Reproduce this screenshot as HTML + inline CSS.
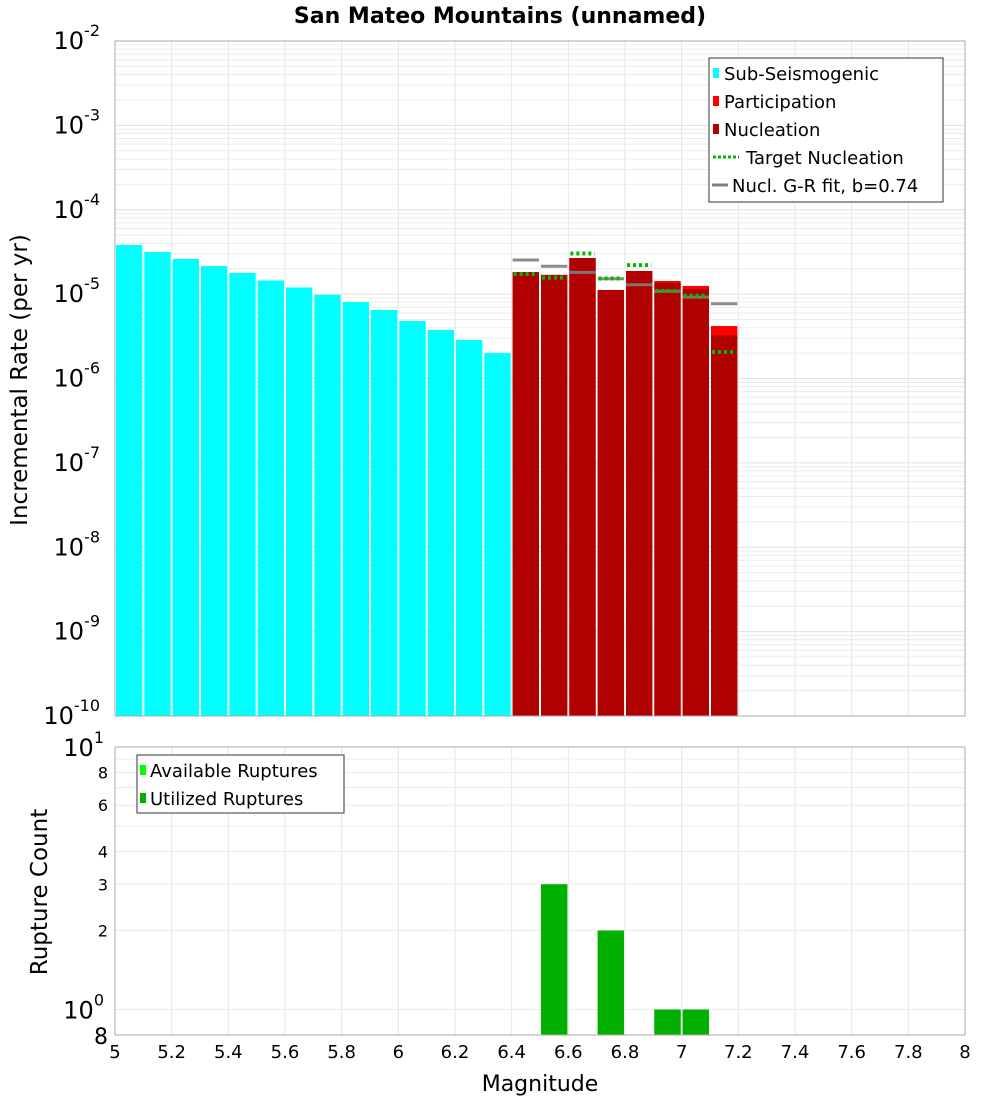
<!DOCTYPE html>
<html><head><meta charset="utf-8"><style>
body{margin:0;background:#fff;}
svg text{font-family:"DejaVu Sans","Liberation Sans",sans-serif;}
</style></head><body>
<svg id="c" width="1000" height="1100" xmlns="http://www.w3.org/2000/svg">
<text x="500" y="23" text-anchor="middle" font-size="22" font-weight="bold">San Mateo Mountains (unnamed)</text>
<text transform="translate(27,380) rotate(-90)" text-anchor="middle" font-size="23">Incremental Rate (per yr)</text>
<text transform="translate(47,892) rotate(-90)" text-anchor="middle" font-size="23">Rupture Count</text>
<text x="540" y="1091" text-anchor="middle" font-size="22">Magnitude</text>
<g id="topg"></g><g id="botg"></g>
</svg>
<script>
const subMags=[5.0,5.1,5.2,5.3,5.4,5.5,5.6,5.7,5.8,5.9,6.0,6.1,6.2,6.3];
const subRates=[3.82e-5,3.15e-5,2.61e-5,2.15e-5,1.78e-5,1.45e-5,1.20e-5,9.8e-6,8.07e-6,6.49e-6,4.80e-6,3.76e-6,2.86e-6,2.0e-6];
const supMags=[6.4,6.5,6.6,6.7,6.8,6.9,7.0,7.1];
const partRates=[1.83e-5,1.69e-5,2.68e-5,1.12e-5,1.88e-5,1.43e-5,1.25e-5,4.19e-6];
const nuclRates=[1.83e-5,1.69e-5,2.68e-5,1.12e-5,1.88e-5,1.36e-5,1.15e-5,3.24e-6];
const targetRates=[1.73e-5,1.57e-5,3.03e-5,1.53e-5,2.21e-5,1.09e-5,9.6e-6,2.06e-6];
const grRates=[2.54e-5,2.14e-5,1.81e-5,1.52e-5,1.29e-5,1.08e-5,9.2e-6,7.7e-6];
const countMags=[6.5,6.7,6.9,7.0];
const availCounts=[3,2,1,1];
const usedCounts=[3,2,1,1];
const xTicks=["5","5.2","5.4","5.6","5.8","6","6.2","6.4","6.6","6.8","7","7.2","7.4","7.6","7.8","8"];
const topExps=[-2,-3,-4,-5,-6,-7,-8,-9,-10];
const botTicks=[8,6,4,3,2];

const NS="http://www.w3.org/2000/svg";
const L=115,R=965,T1=41,B1=716,T2=747,B2=1035;
const X=m=>L+(m-5)/3*(R-L);
const Y1=v=>T1+(-2-Math.log10(v))*(B1-T1)/8;
const Y2=v=>T2+(1-Math.log10(v))*(B2-T2)/(1-Math.log10(0.8));
function el(p,tag,a,txt){const e=document.createElementNS(NS,tag);for(const k in a)e.setAttribute(k,a[k]);if(txt!==undefined)e.textContent=txt;p.appendChild(e);return e;}
const topG=document.getElementById('topg'),botG=document.getElementById('botg');

for(let d=-10;d<-2;d++)for(let k=1;k<10;k++){const y=Y1(k*Math.pow(10,d));
const g=el(topG,'line',{x1:L,x2:R,y1:y,y2:y,stroke:k==1?'#e0e0e0':'#ececec','stroke-width':1});

}
xTicks.forEach(t=>{const x=X(+t);
const g=el(topG,'line',{x1:x,x2:x,y1:T1,y2:B1,stroke:'#e6e6e6'});


const h=el(botG,'line',{x1:x,x2:x,y1:T2,y2:B2,stroke:'#e6e6e6'});


const tl=el(botG,'text',{x:x,y:1058,'text-anchor':'middle','font-size':18},t);

});
for(let v=0.8;v<=10.01;v+=(v<0.95?0.2:1)){const y=Y2(v);
const g=el(botG,'line',{x1:L,x2:R,y1:y,y2:y,stroke:'#ececec'});

}

const bw=0.1*(R-L)/3;
subMags.forEach((m,i)=>{const r=el(topG,'rect',{x:X(m)+1,y:Y1(subRates[i]),width:bw-2,height:B1-Y1(subRates[i]),fill:'#00ffff'});

});
supMags.forEach((m,i)=>{
const r=el(topG,'rect',{x:X(m)+1,y:Y1(partRates[i]),width:bw-2,height:B1-Y1(partRates[i]),fill:'#ff0000'});


const n=el(topG,'rect',{x:X(m)+1,y:Y1(nuclRates[i]),width:bw-2,height:B1-Y1(nuclRates[i]),fill:'#b00000'});

});
supMags.forEach((m,i)=>{
const g=el(topG,'line',{x1:X(m)+1,x2:X(m)+bw-1,y1:Y1(grRates[i]),y2:Y1(grRates[i]),stroke:'#808080','stroke-width':3,'stroke-opacity':0.9});


const t=el(topG,'line',{x1:X(m)+2,x2:X(m)+bw-2,y1:Y1(targetRates[i]),y2:Y1(targetRates[i]),stroke:'#00bb00','stroke-width':4,'stroke-dasharray':'3,3'});

});
el(topG,'rect',{x:L,y:T1,width:R-L,height:B1-T1,fill:'none',stroke:'#aaa'});

topExps.forEach(e=>{const y=Y1(Math.pow(10,e));
const t=el(topG,'text',{x:100,y:y+8,'text-anchor':'end','font-size':24});


el(t,'tspan',{},'10');el(t,'tspan',{dy:-13,'font-size':16},String(e));});

const lg=el(topG,'g',{});


el(lg,'rect',{x:709,y:58,width:234,height:144,fill:'#fff',stroke:'#333'});
[['#00ffff','Sub-Seismogenic'],['#ff0000','Participation'],['#b00000','Nucleation']].forEach((d,i)=>{
el(lg,'rect',{x:713,y:68+i*28,width:6,height:10,fill:d[0]});
el(lg,'text',{x:724,y:80+i*28,'font-size':18},d[1]);});
el(lg,'line',{x1:713,x2:739,y1:157,y2:157,stroke:'#00bb00','stroke-width':3,'stroke-dasharray':'3,2'});
el(lg,'text',{x:746,y:164,'font-size':18},'Target Nucleation');
el(lg,'line',{x1:712,x2:728,y1:185,y2:185,stroke:'#808080','stroke-width':3});
el(lg,'text',{x:732,y:192,'font-size':18},'Nucl. G-R fit, b=0.74');

countMags.forEach((m,i)=>{
const a=el(botG,'rect',{x:X(m)+1,y:Y2(availCounts[i]),width:bw-2,height:B2-Y2(availCounts[i]),fill:'#00ff00'});


const u=el(botG,'rect',{x:X(m)+1,y:Y2(usedCounts[i]),width:bw-2,height:B2-Y2(usedCounts[i]),fill:'#00b000'});

});
el(botG,'rect',{x:L,y:T2,width:R-L,height:B2-T2,fill:'none',stroke:'#aaa'});
botTicks.forEach(v=>{const t=el(botG,'text',{x:108,y:Y2(v)+6,'text-anchor':'end','font-size':16},String(v));

});
[[10,'1',T2],[1,'0',Y2(1)]].forEach(d=>{const t=el(botG,'text',{x:104,y:d[2]+9,'text-anchor':'end','font-size':24});


el(t,'tspan',{},'10');el(t,'tspan',{dy:-13,'font-size':16},d[1]);});
const b8=el(botG,'text',{x:108,y:B2+9,'text-anchor':'end','font-size':22},'8');


const lb=el(botG,'g',{});


el(lb,'rect',{x:137,y:755,width:207,height:58,fill:'#fff',stroke:'#333'});
el(lb,'rect',{x:140,y:765,width:6,height:10,fill:'#00ff00'});
el(lb,'text',{x:150,y:777,'font-size':18},'Available Ruptures');
el(lb,'rect',{x:140,y:793,width:6,height:10,fill:'#00b000'});
el(lb,'text',{x:150,y:805,'font-size':18},'Utilized Ruptures');
</script>
</body></html>
